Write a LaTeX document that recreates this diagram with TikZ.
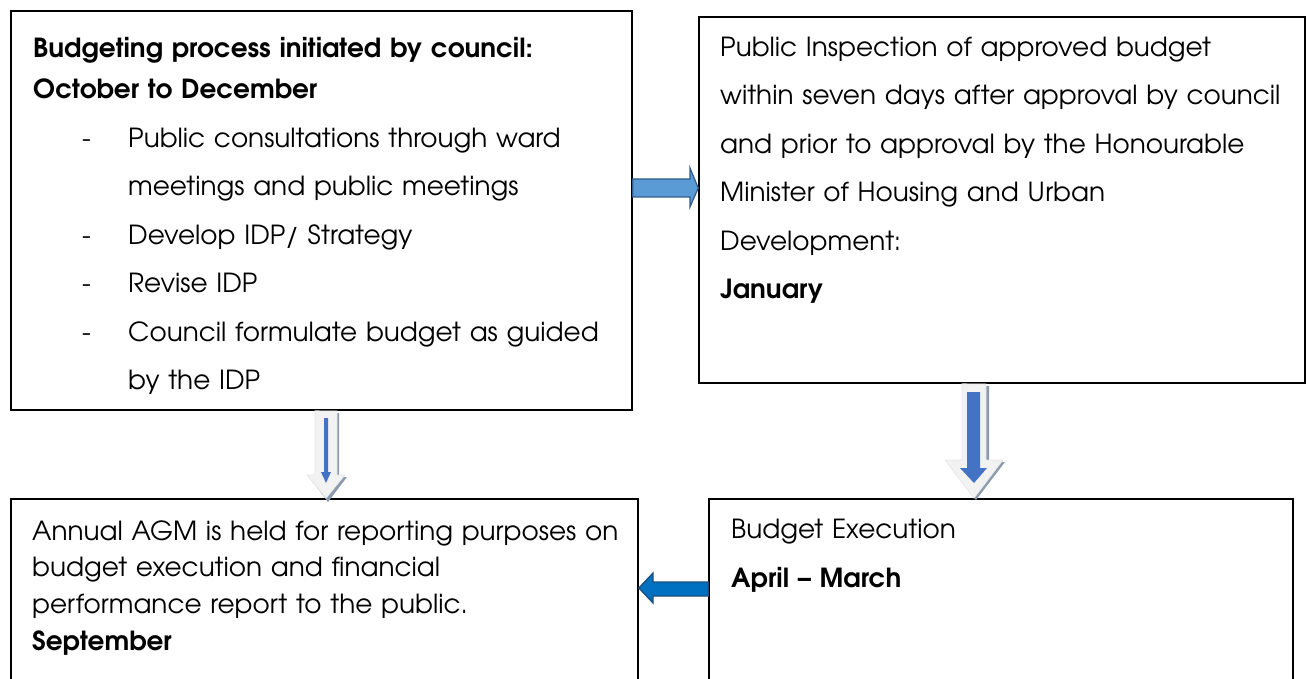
\documentclass[tikz,border=0pt]{standalone}
\usepackage{fontspec}
\setmainfont{TeX Gyre Adventor}
\usetikzlibrary{calc}

\definecolor{rightblue}{HTML}{5B9BD5}
\definecolor{rightline}{HTML}{2F5C8A}
\definecolor{leftblue}{HTML}{0070C0}
\definecolor{leftline}{HTML}{1F4E79}
\definecolor{downblue}{HTML}{4472C4}
\definecolor{downlight}{HTML}{F2F2F2}
\definecolor{downshade}{HTML}{8C9AB0}

\begin{document}
\begin{tikzpicture}[x=1pt,y=-1pt,
  box/.style 2 args={draw,line width=1.5pt,inner sep=0pt,
    minimum width=#1,minimum height=#2},
  txt/.style={anchor=base west,inner sep=0pt,text width=660pt,align=left},
  wide/.style={font=\fontsize{26.3}{48.5}\selectfont},
  tight/.style={font=\fontsize{26.3}{36.7}\selectfont},
  flatarrow/.style 2 args={fill=#1,draw=#2,line width=1.2pt,line join=miter},
  hollow/.style={fill=downlight,draw=black!10,line width=0.6pt},
  shade/.style={fill=downshade}]

  \useasboundingbox (0,0) rectangle (1309,679);
  \clip (0,0) rectangle (1309,679);

  % boxes
  \node [box={621pt}{399pt}] (council) at (321.5,210.5) {};
  \node [box={606pt}{366pt}] (inspect) at (1002,200) {};
  \node [box={627pt}{201pt}] (agm) at (324.5,599.5) {};
  \node [box={584pt}{201pt}] (execute) at (1001,599.5) {};

  % texts
  \node [txt,wide] (councilText) at (33,57.5) {%
    \textbf{Budgeting process initiated by council:}\\[-7pt]
    \textbf{October to December}\\
    \hspace*{49pt}\makebox[46pt][l]{-}Public consultations through ward\\
    \hspace*{95pt}meetings and public meetings\\
    \hspace*{49pt}\makebox[46pt][l]{-}Develop IDP/ Strategy\\
    \hspace*{49pt}\makebox[46pt][l]{-}Revise IDP\\
    \hspace*{49pt}\makebox[46pt][l]{-}Council formulate budget as guided\\
    \hspace*{95pt}by the IDP};
  \node [txt,wide] (inspectText) at (720,56.5) {%
    Public Inspection of approved budget\\
    within seven days after approval by council\\
    and prior to approval by the Honourable\\
    Minister of Housing and Urban\\
    Development:\\
    \textbf{January}};
  \node [txt,tight] (agmText) at (32,540) {%
    Annual AGM is held for reporting purposes on\\
    budget execution and financial\\
    performance report to the public.\\
    \textbf{September}};
  \node [txt,wide] (executeText) at (731,538.5) {%
    Budget Execution\\
    \textbf{April -- March}};

  % council -> inspect
  \draw [flatarrow={rightblue}{rightline}]
    (council.east |- 0,179) -- (690,179) -- (690,168)
    -- (inspect.west |- 0,188) -- (690,207) -- (690,197)
    -- (council.east |- 0,197) -- cycle;

  % inspect -> execute
  \fill [shade] (965,386) -- (989,386) -- (989,462) -- (1005,462)
    -- (976,500) -- (947,462) -- (965,462) -- cycle;
  \draw [hollow] (inspect.south -| 962,0) -- (986,384) -- (986,460)
    -- (1003,460) -- (execute.north -| 974,0) -- (945,460) -- (962,460) -- cycle;
  \fill [downblue] (967,392) -- (980,392) -- (980,468) -- (987,468)
    -- (974,483) -- (960,468) -- (967,468) -- cycle;

  % execute -> agm
  \draw [flatarrow={leftblue}{leftline}]
    (execute.west |- 0,582) -- (653,582) -- (653,573)
    -- (agm.east |- 0,588) -- (653,603) -- (653,596)
    -- (execute.west |- 0,596) -- cycle;

  % council -> agm
  \fill [shade] (317,413) -- (339,413) -- (339,477) -- (347,477)
    -- (328,502) -- (309,477) -- (317,477) -- cycle;
  \draw [hollow] (council.south -| 315,0) -- (337,411) -- (337,475)
    -- (345,475) -- (agm.north -| 326,0) -- (307,475) -- (315,475) -- cycle;
  \fill [downblue] (324,418) -- (328,418) -- (328,472) -- (331,472)
    -- (326,483) -- (321,472) -- (324,472) -- cycle;
\end{tikzpicture}
\end{document}
